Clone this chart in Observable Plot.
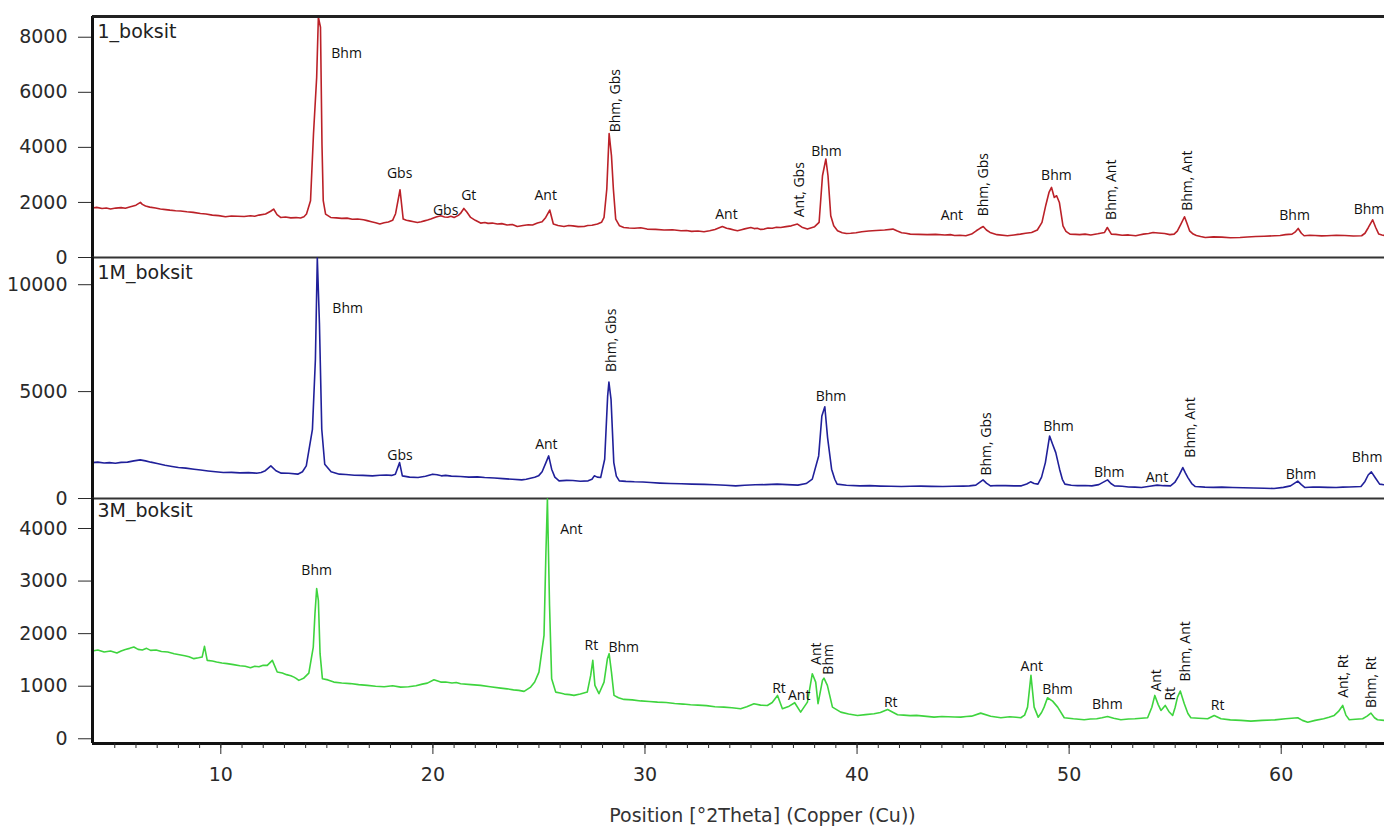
<!DOCTYPE html>
<html><head><meta charset="utf-8">
<script src="https://cdn.jsdelivr.net/npm/d3@7"></script>
<script src="https://cdn.jsdelivr.net/npm/@observablehq/plot@0.6"></script>
<style>
body{margin:0;background:#fff;}
#chart{position:relative;width:1384px;height:827px;overflow:hidden;background:#fff;}
#chart svg{position:absolute;left:0;overflow:visible;background:transparent;}
</style></head><body><div id="chart"></div>
<script>
// ---- x axis ----
const xDomain = [3.95, 64.87];
const xMajorTicks = [10, 20, 30, 40, 50, 60];
const xLabel = "Position [°2Theta] (Copper (Cu))";

// ---- 1_boksit (red): [°2θ, counts] ----
const name1 = "1_boksit";
const yTicks1 = [0, 2000, 4000, 6000, 8000];
const scan1 = [[3.95,1796],[4.15,1820],[4.4,1780],[4.6,1800],[4.8,1760],[5.05,1795],[5.3,1810],[5.5,1790],[5.74,1843],[6.0,1900],[6.21,2000],[6.3,1930],[6.45,1870],[6.65,1830],[6.92,1796],[7.15,1760],[7.4,1740],[7.6,1720],[7.87,1698],[8.1,1690],[8.4,1660],[8.7,1640],[9.04,1600],[9.3,1580],[9.6,1540],[9.9,1520],[10.22,1480],[10.5,1510],[10.8,1500],[11.1,1490],[11.4,1516],[11.6,1500],[11.8,1540],[12.11,1578],[12.35,1680],[12.49,1760],[12.65,1560],[12.82,1455],[13.05,1470],[13.3,1440],[13.55,1450],[13.76,1433],[13.92,1480],[14.04,1578],[14.23,2062],[14.37,4487],[14.52,6545],[14.6,8727],[14.7,8363],[14.77,4123],[14.83,2062],[14.94,1578],[15.18,1455],[15.45,1440],[15.7,1420],[15.95,1430],[16.2,1390],[16.45,1400],[16.73,1370],[16.9,1340],[17.1,1300],[17.3,1260],[17.5,1215],[17.7,1260],[17.9,1290],[18.1,1350],[18.24,1590],[18.45,2460],[18.6,1395],[18.75,1350],[18.9,1330],[19.1,1300],[19.27,1273],[19.45,1300],[19.6,1330],[19.75,1360],[19.9,1395],[20.15,1470],[20.37,1516],[20.55,1470],[20.7,1460],[20.85,1500],[21.0,1455],[21.2,1530],[21.3,1600],[21.46,1782],[21.6,1650],[21.78,1455],[22.0,1350],[22.25,1250],[22.45,1270],[22.6,1240],[22.8,1250],[23.04,1215],[23.25,1230],[23.5,1180],[23.75,1200],[23.98,1127],[24.25,1160],[24.5,1190],[24.7,1180],[24.93,1250],[25.15,1300],[25.32,1455],[25.51,1723],[25.68,1215],[25.9,1160],[26.18,1127],[26.4,1160],[26.6,1150],[26.85,1120],[27.13,1127],[27.3,1160],[27.5,1170],[27.76,1215],[27.95,1280],[28.07,1455],[28.2,2487],[28.31,4500],[28.42,3700],[28.51,2487],[28.62,1395],[28.8,1150],[29.0,1090],[29.25,1070],[29.5,1060],[29.8,1080],[30.1,1032],[30.5,1020],[30.9,1000],[31.3,1010],[31.7,970],[31.95,980],[32.2,950],[32.5,960],[32.78,934],[33.05,970],[33.3,1020],[33.65,1127],[33.85,1060],[34.0,1040],[34.2,1000],[34.36,970],[34.55,1010],[34.7,1040],[34.99,1090],[35.15,1050],[35.3,1060],[35.45,1020],[35.62,1032],[35.8,1070],[36.0,1060],[36.2,1100],[36.4,1090],[36.65,1120],[36.9,1150],[37.19,1215],[37.4,1100],[37.66,1032],[37.85,1080],[38.0,1120],[38.21,1273],[38.37,2970],[38.53,3578],[38.63,2970],[38.76,1516],[38.9,1150],[39.08,970],[39.3,900],[39.5,870],[39.7,880],[39.95,900],[40.22,934],[40.55,960],[40.9,980],[41.3,1000],[41.69,1032],[41.9,960],[42.1,900],[42.3,880],[42.51,850],[42.9,840],[43.3,830],[43.7,840],[44.14,815],[44.4,830],[44.6,800],[44.85,810],[45.13,790],[45.4,850],[45.62,970],[45.8,1060],[45.95,1127],[46.1,1000],[46.27,910],[46.6,830],[47.09,790],[47.4,820],[47.7,850],[47.95,880],[48.23,910],[48.5,1000],[48.72,1273],[48.9,1900],[49.05,2363],[49.17,2545],[49.3,2180],[49.41,2243],[49.54,2000],[49.62,1600],[49.71,1153],[49.85,950],[50.04,850],[50.3,840],[50.5,830],[50.75,850],[51.02,815],[51.35,860],[51.67,910],[51.8,1090],[51.99,850],[52.2,840],[52.5,810],[52.8,820],[53.14,790],[53.3,820],[53.5,850],[53.75,870],[53.96,910],[54.2,890],[54.5,870],[54.75,830],[54.95,850],[55.1,960],[55.27,1215],[55.44,1480],[55.55,1250],[55.68,970],[55.85,850],[56.0,800],[56.2,760],[56.42,727],[56.8,750],[57.2,740],[57.6,720],[58.06,727],[58.4,745],[58.8,760],[59.2,770],[59.69,790],[59.95,800],[60.2,830],[60.51,850],[60.65,920],[60.8,1055],[60.95,880],[61.08,790],[61.35,810],[61.6,800],[61.9,785],[62.15,790],[62.6,810],[63.0,800],[63.4,780],[63.79,790],[63.95,880],[64.11,1090],[64.31,1370],[64.45,1100],[64.6,850],[64.75,820],[64.87,800]];
const labels1 = [
  ["Bhm",15.93,7407,0],["Gbs",18.43,3043,0],["Gbs",20.6,1698,0],["Gt",21.69,2243,0],
  ["Ant",25.32,2243,0],["Bhm, Gbs",28.62,5698,-90],["Ant",33.84,1578,0],["Ant, Gbs",37.27,2462,-90],
  ["Bhm",38.56,3843,0],["Ant",44.47,1516,0],["Bhm, Gbs",45.98,2643,-90],["Bhm",49.4,2970,0],
  ["Bhm, Ant",52.0,2460,-90],["Bhm, Ant",55.6,2789,-90],["Bhm",60.63,1516,0],["Bhm",64.14,1760,0]
];

// ---- 1M_boksit (blue) ----
const name2 = "1M_boksit";
const yTicks2 = [0, 5000, 10000];
const scan2 = [[3.95,1680],[4.2,1700],[4.5,1660],[4.75,1680],[5.03,1651],[5.3,1690],[5.6,1700],[5.9,1760],[6.2,1805],[6.45,1760],[6.7,1700],[7.0,1640],[7.37,1558],[7.7,1500],[8.0,1450],[8.35,1420],[8.74,1371],[9.05,1330],[9.4,1290],[9.75,1250],[10.12,1213],[10.5,1220],[10.9,1200],[11.3,1210],[11.68,1185],[11.9,1220],[12.1,1300],[12.36,1525],[12.6,1300],[12.85,1185],[13.2,1180],[13.63,1138],[13.85,1250],[14.03,1525],[14.32,3237],[14.46,6501],[14.55,11250],[14.65,8209],[14.76,3237],[14.9,1604],[15.2,1250],[15.59,1138],[15.9,1120],[16.3,1090],[16.7,1080],[17.15,1059],[17.5,1090],[17.8,1100],[18.05,1080],[18.23,1138],[18.43,1679],[18.56,1059],[18.9,1000],[19.3,979],[19.65,1040],[19.99,1138],[20.2,1110],[20.4,1060],[20.6,1080],[20.87,1045],[21.3,1030],[21.7,1000],[22.1,1010],[22.44,979],[22.9,960],[23.3,930],[23.75,900],[24.19,872],[24.4,900],[24.6,950],[24.8,990],[24.98,1059],[25.15,1250],[25.33,1679],[25.46,1992],[25.6,1371],[25.75,1000],[25.95,826],[26.3,850],[26.6,840],[26.95,810],[27.32,826],[27.5,900],[27.61,1059],[27.75,1000],[27.91,979],[28.1,1838],[28.24,4790],[28.3,5443],[28.4,4636],[28.53,1679],[28.65,1050],[28.79,826],[29.1,800],[29.5,780],[29.9,770],[30.26,746],[30.7,720],[31.2,700],[31.7,690],[32.21,672],[32.8,660],[33.3,640],[33.8,620],[34.28,592],[34.7,620],[35.2,640],[35.7,650],[36.23,672],[36.7,650],[37.21,625],[37.6,700],[37.89,905],[38.19,1992],[38.34,3857],[38.48,4291],[38.61,2845],[38.8,1371],[38.95,900],[39.06,672],[39.5,620],[40.14,592],[40.6,600],[41.1,580],[41.6,570],[42.09,560],[42.5,570],[43.0,580],[43.5,565],[44.05,560],[44.5,570],[45.0,580],[45.3,590],[45.6,625],[45.94,872],[46.1,720],[46.29,592],[46.6,610],[47.0,600],[47.4,590],[47.75,592],[48.0,680],[48.18,779],[48.35,700],[48.53,672],[48.7,1000],[48.88,1679],[49.08,2924],[49.22,2537],[49.37,2145],[49.55,1371],[49.68,900],[49.8,672],[50.1,620],[50.4,600],[50.75,610],[51.07,592],[51.4,650],[51.81,872],[51.97,700],[52.14,592],[52.5,570],[52.8,540],[53.1,530],[53.41,513],[53.8,570],[54.15,625],[54.45,600],[54.78,592],[54.98,750],[55.17,1059],[55.36,1446],[55.48,1200],[55.6,979],[55.78,700],[55.95,560],[56.4,530],[56.8,520],[57.2,530],[57.71,513],[58.2,500],[58.7,490],[59.2,480],[59.66,466],[60.1,520],[60.44,592],[60.78,812],[60.95,650],[61.12,513],[61.5,540],[61.8,530],[62.2,520],[62.59,513],[62.9,530],[63.2,540],[63.5,550],[63.76,560],[63.95,800],[64.1,1100],[64.25,1245],[64.45,950],[64.64,672],[64.87,640]];
const labels2 = [
  ["Bhm",15.98,8908,0],["Gbs",18.45,1992,0],["Ant",25.35,2537,0],["Bhm, Gbs",28.4,7400,-90],
  ["Bhm",38.77,4790,0],["Bhm, Gbs",46.09,2551,-90],["Bhm",49.5,3358,0],["Bhm",51.89,1213,0],
  ["Ant",54.14,979,0],["Bhm, Ant",55.7,3321,-90],["Bhm",60.93,1138,0],["Bhm",64.05,1912,0]
];

// ---- 3M_boksit (green) ----
const name3 = "3M_boksit";
const yTicks3 = [0, 1000, 2000, 3000, 4000];
const scan3 = [[3.95,1669],[4.2,1690],[4.5,1650],[4.8,1670],[5.1,1631],[5.3,1670],[5.5,1700],[5.7,1720],[5.9,1745],[6.1,1700],[6.3,1690],[6.5,1720],[6.69,1682],[6.95,1690],[7.2,1660],[7.5,1650],[7.8,1619],[8.05,1600],[8.3,1580],[8.5,1560],[8.73,1524],[8.95,1540],[9.12,1554],[9.23,1758],[9.36,1492],[9.6,1480],[9.8,1460],[10.05,1440],[10.3,1429],[10.6,1410],[10.9,1390],[11.15,1380],[11.4,1352],[11.6,1380],[11.8,1370],[12.0,1400],[12.19,1396],[12.43,1492],[12.66,1269],[12.9,1250],[13.1,1220],[13.3,1200],[13.45,1173],[13.55,1150],[13.68,1111],[13.9,1150],[14.15,1250],[14.36,1745],[14.44,2381],[14.52,2858],[14.6,2635],[14.68,1619],[14.79,1143],[15.05,1120],[15.33,1078],[15.7,1060],[16.1,1050],[16.5,1030],[16.91,1015],[17.3,1000],[17.7,990],[18.1,1010],[18.48,983],[18.85,990],[19.2,1010],[19.5,1040],[19.74,1059],[20.05,1124],[20.37,1078],[20.6,1080],[20.9,1060],[21.1,1070],[21.31,1048],[21.8,1030],[22.25,1015],[22.7,990],[23.2,964],[23.5,950],[23.8,930],[24.05,920],[24.3,901],[24.61,983],[24.8,1080],[25.0,1269],[25.24,1968],[25.33,3555],[25.4,4560],[25.5,2539],[25.6,1143],[25.79,888],[26.0,870],[26.2,850],[26.45,840],[26.65,825],[26.95,850],[27.28,888],[27.44,1206],[27.54,1492],[27.64,1015],[27.83,857],[28.07,1078],[28.23,1524],[28.31,1619],[28.42,1269],[28.54,825],[28.75,780],[29.01,749],[29.4,740],[29.8,720],[30.2,710],[30.59,697],[31.0,690],[31.4,670],[31.8,660],[32.15,648],[32.5,640],[32.9,630],[33.3,610],[33.72,602],[34.1,590],[34.51,572],[34.8,610],[35.14,667],[35.45,640],[35.77,634],[36.0,690],[36.25,825],[36.48,572],[36.8,620],[37.06,686],[37.34,507],[37.66,697],[37.89,1238],[38.05,1078],[38.16,667],[38.37,1111],[38.44,1155],[38.6,1015],[38.84,602],[39.23,507],[39.6,470],[40.02,444],[40.4,460],[40.8,476],[41.1,500],[41.44,558],[41.91,457],[42.2,450],[42.5,440],[42.8,445],[43.16,431],[43.63,411],[44.0,425],[44.3,420],[44.6,415],[44.89,411],[45.15,425],[45.4,430],[45.83,488],[46.3,430],[46.78,400],[47.2,420],[47.5,410],[47.72,400],[47.9,450],[48.04,602],[48.2,1206],[48.35,602],[48.54,411],[48.7,500],[48.82,602],[48.98,781],[49.22,716],[49.46,602],[49.77,400],[50.2,380],[50.71,362],[51.0,375],[51.3,380],[51.55,400],[51.81,425],[52.1,390],[52.44,362],[52.8,375],[53.1,380],[53.4,390],[53.7,400],[53.9,600],[54.04,825],[54.2,650],[54.33,539],[54.53,634],[54.7,520],[54.88,444],[55.0,600],[55.11,793],[55.24,907],[55.43,667],[55.6,480],[55.74,400],[56.1,390],[56.53,381],[56.84,444],[57.16,381],[57.6,360],[58.1,350],[58.57,335],[59.1,350],[59.7,360],[60.2,380],[60.78,400],[61.0,350],[61.25,316],[61.6,350],[62.0,380],[62.25,410],[62.5,444],[62.7,520],[62.9,634],[63.05,450],[63.21,362],[63.5,370],[63.84,381],[64.05,430],[64.23,488],[64.4,400],[64.54,362],[64.87,349]];
const labels3 = [
  ["Bhm",14.52,3193,0],["Ant",26.53,3981,0],["Rt",27.47,1777,0],["Bhm",29.0,1745,0],
  ["Rt",36.32,964,0],["Ant",37.27,825,0],["Ant",38.11,1619,-90],["Bhm",38.66,1511,-90],
  ["Rt",41.59,697,0],["Ant",48.24,1377,0],["Bhm",49.45,933,0],["Bhm",51.8,653,0],
  ["Ant",54.14,1111,-90],["Rt",54.77,857,-90],["Bhm, Ant",55.51,1663,-90],["Rt",57.0,634,0],
  ["Ant, Rt",62.94,1190,-90],["Bhm, Rt",64.27,1073,-90]
];

const chart = document.getElementById("chart");
const AXIS_FONT = "DejaVu Sans";

function makePanel(o) {
  const data = o.scan.map(d => ({x: d[0], y: d[1]}));
  const lab = o.labels.map(d => ({t: d[0], x: d[1], y: d[2], r: d[3]}));
  const marks = [
    Plot.axisY({ticks: o.yTicks, tickSize: 14, tickPadding: 11, tickFormat: d3.format("d"), label: null}),
    Plot.line(data, {x: "x", y: "y", stroke: o.color, strokeWidth: 1.6, strokeLinejoin: "round", clip: true}),
    Plot.text(lab.filter(d => d.r === 0), {x: "x", y: "y", text: "t", fontFamily: "Open Sans", fontSize: 14, fill: "#111"}),
    Plot.text(lab.filter(d => d.r !== 0), {x: "x", y: "y", text: "t", rotate: -90, fontFamily: "Open Sans", fontSize: 14, fill: "#111"}),
    Plot.text([o.name], {frameAnchor: "top-left", dx: 5, dy: o.nameDy, lineAnchor: "top", textAnchor: "start", fontFamily: AXIS_FONT, fontSize: 19, fill: "#222"}),
    Plot.ruleX([xDomain[0]], {stroke: "#111", strokeWidth: 3})
  ];
  if (o.topRule) marks.push(Plot.ruleY([o.yDomain[1]], {stroke: "#222", strokeWidth: 3}));
  if (o.zeroRule) marks.push(Plot.ruleY([0], {stroke: "#333", strokeWidth: 2}));
  if (o.bottomAxis) {
    marks.push(Plot.ruleY([o.yDomain[0]], {stroke: "#111", strokeWidth: 3}));
    marks.push(Plot.axisX({ticks: d3.range(5, 65), tickSize: 5, tickFormat: () => "", label: null}));
    marks.push(Plot.axisX({ticks: xMajorTicks, tickSize: 11, tickPadding: 13, tickFormat: d3.format("d"), label: null}));
    marks.push(Plot.text([xLabel], {frameAnchor: "bottom", dx: 24, dy: 72, lineAnchor: "middle", fontFamily: AXIS_FONT, fontSize: 19, fill: "#333"}));
  }
  const svg = Plot.plot({
    width: 1384, height: o.height,
    marginLeft: 92, marginRight: 0, marginTop: o.marginTop, marginBottom: o.marginBottom,
    x: o.bottomAxis ? {domain: xDomain} : {domain: xDomain, axis: null},
    y: {domain: o.yDomain},
    style: {fontFamily: AXIS_FONT, fontSize: "19px", color: "#2a2a2a", background: "transparent", overflow: "visible"},
    marks
  });
  svg.style.top = o.top + "px";
  chart.appendChild(svg);
}

makePanel({scan: scan1, labels: labels1, name: name1, yTicks: yTicks1, color: "#bb2128",
  yDomain: [0, 8753], top: 0, height: 257, marginTop: 16, marginBottom: 0, nameDy: 8, topRule: true, zeroRule: true});
makePanel({scan: scan2, labels: labels2, name: name2, yTicks: yTicks2, color: "#20209a",
  yDomain: [0, 11273], top: 257, height: 241, marginTop: 0, marginBottom: 0, nameDy: 8, zeroRule: true});
makePanel({scan: scan3, labels: labels3, name: name3, yTicks: yTicks3, color: "#3ed43e",
  yDomain: [-90, 4571], top: 498, height: 329, marginTop: 0, marginBottom: 84, nameDy: 5, bottomAxis: true});
</script></body></html>
